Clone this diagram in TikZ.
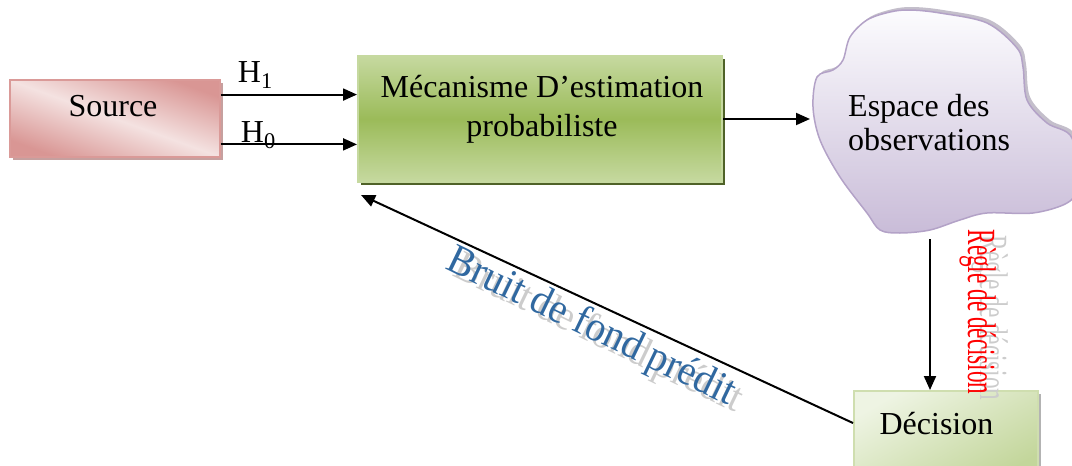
\documentclass[tikz,border=0pt]{standalone}
\usepackage{fontspec}
\setmainfont{Liberation Serif}
\usetikzlibrary{arrows.meta,shadows,calc}

\definecolor{srclight}{HTML}{F4E2E1}
\definecolor{srcdark}{HTML}{D99694}
\definecolor{srcline}{HTML}{DA9A98}
\definecolor{mecmid}{HTML}{9BBB59}
\definecolor{meclight}{HTML}{C6D9A0}
\definecolor{mecshadow}{HTML}{4F6228}
\definecolor{declight}{HTML}{EEF4E3}
\definecolor{decdark}{HTML}{C3D69B}
\definecolor{cloudtop}{HTML}{FCFCFE}
\definecolor{cloudbot}{HTML}{C9BCD8}
\definecolor{cloudline}{HTML}{B3A2C7}
\definecolor{bruitblue}{RGB}{48,104,160}

\newcommand{\bigfont}{\fontsize{32}{39}\selectfont}

\tikzset{
  arr/.style={line width=2pt, -{Triangle[length=14pt,width=12pt]}},
  lbl/.style={font=\bigfont, inner sep=0pt},
  srcbox/.style={rectangle, draw=srcline, line width=1.5pt,
    top color=srcdark, bottom color=srcdark, middle color=srclight, shading angle=-20,
    drop shadow={shadow xshift=3pt, shadow yshift=-3pt, opacity=1, fill=srcdark!80!black!70}},
  mecbox/.style={rectangle, draw=meclight, line width=2pt,
    top color=meclight, bottom color=meclight, middle color=mecmid,
    drop shadow={shadow xshift=3pt, shadow yshift=-3pt, opacity=1, fill=mecshadow}},
  decbox/.style={rectangle, draw=decdark!80, line width=1.5pt,
    left color=declight, right color=decdark, shading angle=30,
    drop shadow={shadow xshift=3pt, shadow yshift=-3pt, opacity=0.6, fill=gray}},
  hlabel/.style={lbl, anchor=base west},
  artshadow/.style={text=gray!40, inner sep=0pt},
}

\begin{document}
\begin{tikzpicture}[x=1pt, y=-1pt]
\useasboundingbox (0,0) rectangle (1072,466);

% blocks
\node[srcbox, minimum width=210pt, minimum height=77pt] (src) at (115,118.5) {};
\node[lbl, anchor=base] (srctext) at (113,116.7) {Source};
\node[mecbox, minimum width=364pt, minimum height=126pt] (mec) at (540,119) {};
% base anchor of a two-line node sits on the last line
\node[lbl, align=center, anchor=base] (mectext) at (542,136)
  {Mécanisme D’estimation\\probabiliste};
\node[decbox, minimum width=184pt, minimum height=90pt, anchor=north west] (dec) at (853,390) {};
\node[lbl, anchor=base] (dectext) at (936.5,434) {Décision};

% cloud of observations
\fill[cloudline!70!black, opacity=0.45, xshift=3pt, yshift=3pt]
  plot[smooth cycle, tension=0.55] coordinates {
  (910,10) (940,13) (987,23) (1017,48) (1023,67) (1027,100) (1047,123)
  (1072,138) (1076,187) (1067,203) (1033,213) (987,213) (960,220)
  (930,230) (900,233) (880,230) (867,213) (840,177) (820,140)
  (813,107) (817,77) (833,70) (843,60) (850,37) (867,20) (890,12)};
\draw[cloudline, line width=1.5pt, top color=cloudtop, bottom color=cloudbot]
  plot[smooth cycle, tension=0.55] coordinates {
  (910,10) (940,13) (987,23) (1017,48) (1023,67) (1027,100) (1047,123)
  (1072,138) (1076,187) (1067,203) (1033,213) (987,213) (960,220)
  (930,230) (900,233) (880,230) (867,213) (840,177) (820,140)
  (813,107) (817,77) (833,70) (843,60) (850,37) (867,20) (890,12)};
\node[lbl, font=\fontsize{32}{34}\selectfont, align=left, anchor=base west] (obs) at (848,150)
  {Espace des\\observations};
\coordinate (cloudW) at (810,119);
\coordinate (cloudS) at (930,239);

% hypotheses from the source
\coordinate (h1s) at ($(src.north east)!0.195!(src.south east)$);
\coordinate (h0s) at ($(src.north east)!0.83!(src.south east)$);
\draw[arr] (h1s) -- (h1s -| mec.west);
\draw[arr] (h0s) -- (h0s -| mec.west);
\node[hlabel] (h1) at ($(h1s)+(17,-12)$) {H\textsubscript{1}};
\node[hlabel] (h0) at ($(h0s)+(20,-2)$) {H\textsubscript{0}};

% estimation -> observations -> decision
\draw[arr] (mec.east |- cloudW) -- (cloudW);
\draw[arr] (cloudS) -- (cloudS |- dec.north);

% predicted background noise fed back
\coordinate (bruitend) at (361,195);
\draw[arr] (dec.west |- dectext.center) -- (bruitend);
\node[artshadow, font=\fontsize{42}{42}\selectfont, rotate=-25.7] (bruitsh) at (598,335)
  {\scalebox{0.95}[1]{Bruit de fond prédit}};
\node[text=bruitblue, inner sep=0pt, font=\fontsize{42}{42}\selectfont, rotate=-25.7] (bruit) at (591,328)
  {\scalebox{0.95}[1]{Bruit de fond prédit}};

% decision rule
\node[artshadow, font=\fontsize{40}{40}\selectfont, rotate=-90, anchor=base] (reglesh) at (980,318)
  {\scalebox{0.58}[1]{Règle de décision}};
\node[text=red, inner sep=0pt, font=\fontsize{40}{40}\selectfont, rotate=-90, anchor=base] (regle) at (968,312)
  {\scalebox{0.58}[1]{Règle de décision}};
\end{tikzpicture}
\end{document}
